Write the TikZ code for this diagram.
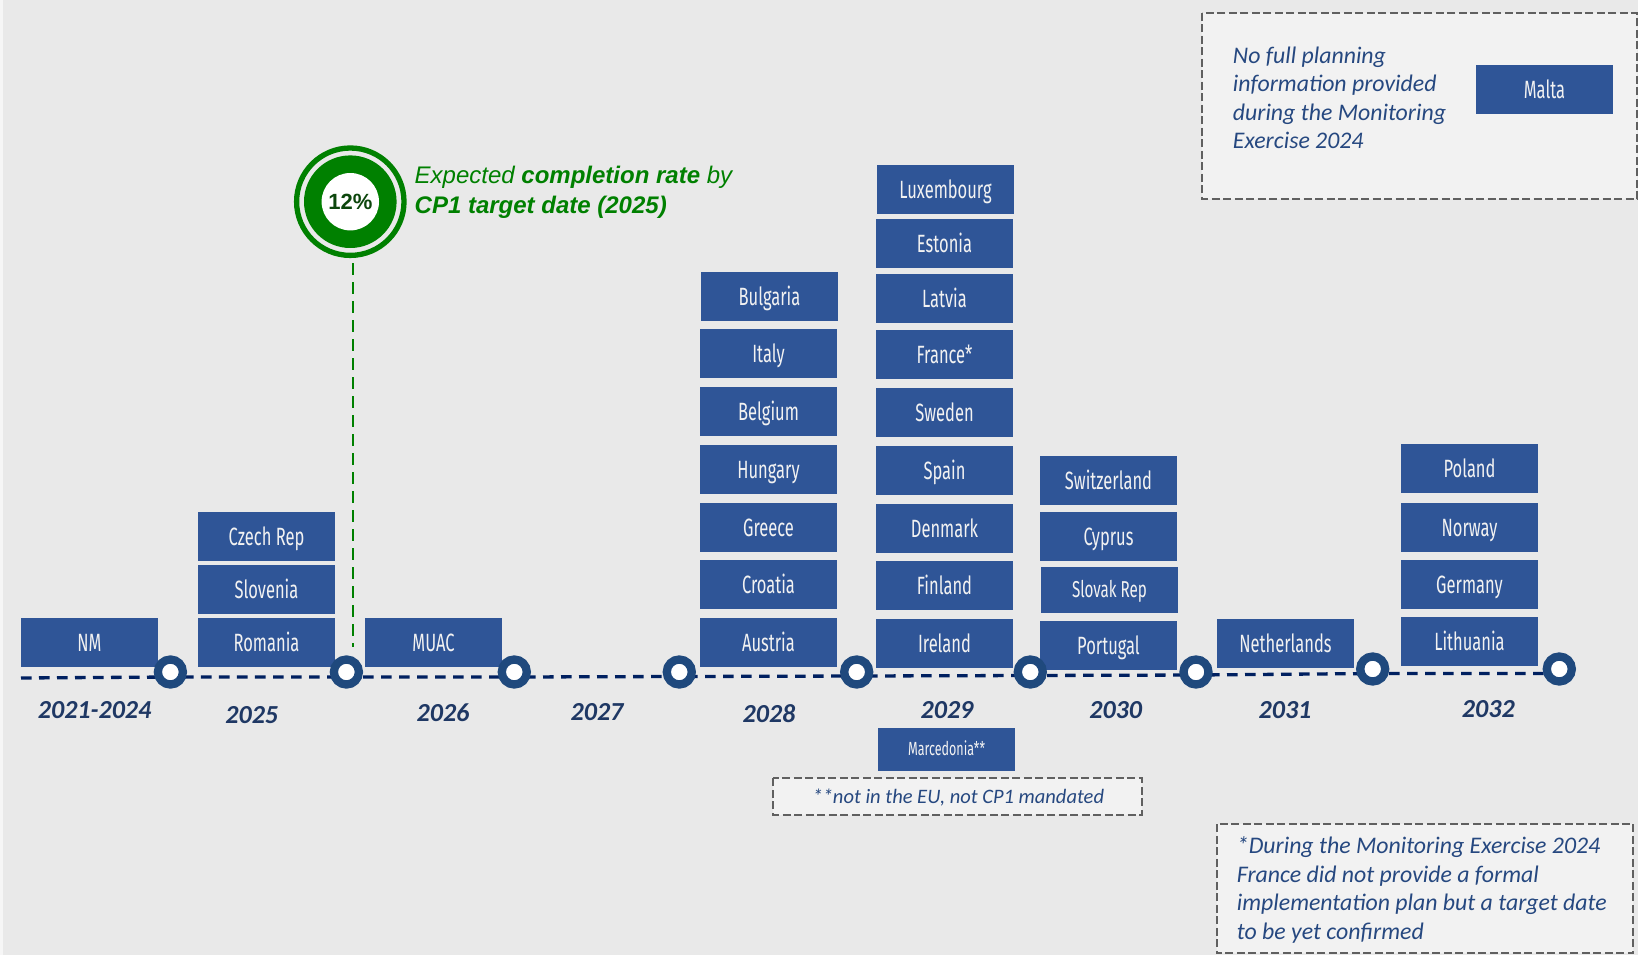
\documentclass[tikz,border=0pt]{standalone}
\usepackage{fontspec}
\setmainfont{Carlito}
\newfontfamily\agency[FakeStretch=0.66]{Fira Sans}
\newfontfamily\arialf{Liberation Sans}
\definecolor{bg}{RGB}{233,233,233}
\definecolor{boxblue}{RGB}{47,85,151}
\definecolor{ringblue}{RGB}{31,73,125}
\definecolor{navy}{RGB}{0,32,96}
\definecolor{yearc}{RGB}{31,56,100}
\definecolor{notec}{RGB}{38,72,128}
\definecolor{grn}{RGB}{0,128,0}
\definecolor{dgrn}{RGB}{12,70,12}
\definecolor{dashgray}{RGB}{96,96,96}
\definecolor{notefill}{RGB}{242,242,242}
\definecolor{boxtext}{RGB}{242,242,242}
\begin{document}
\begin{tikzpicture}[x=1pt,y=-1pt,
  cbox/.style={fill=boxblue, text=boxtext, minimum width=137pt, minimum height=48.7pt, inner sep=0pt,
    font=\agency\fontsize{25}{25}\selectfont, text height=17.5pt, text depth=0pt},
  ring/.style={circle, draw=ringblue, line width=8.3pt, fill=white, minimum size=25pt, inner sep=0pt},
  tl/.style={draw=navy, line width=3.3pt, dash pattern=on 10.7pt off 7.3pt},
  year/.style={font=\fontsize{26}{26}\selectfont\bfseries\itshape, text=yearc, inner sep=0pt, text height=17pt, text depth=0pt},
  notebox/.style={draw=dashgray, line width=2.2pt, dash pattern=on 8pt off 3.5pt, fill=notefill},
  notetext/.style={font=\fontsize{23.8}{28}\selectfont\itshape, text=notec, inner sep=0pt, anchor=base west},
  gtext/.style={font=\arialf\fontsize{24}{30}\selectfont\itshape, text=grn, inner sep=0pt, anchor=base west}
]
\useasboundingbox (0,0) rectangle (1638,955);
\fill[bg] (0,0) rectangle (1638,955);
\fill[white!60!bg] (0,0) rectangle (3,955);

% note boxes
\draw[notebox] (1202.3,12.7) rectangle (1637,199);
\draw[notebox] (773.3,778.3) rectangle (1141.7,815);
\draw[notebox] (1216.7,824) rectangle (1633.3,953.3);

\node[notetext] (m1) at (1232.7,63.3) {No full planning};
\node[notetext] (m2) at (1232.7,91.7) {information provided};
\node[notetext] (m3) at (1232.7,120.1) {during the Monitoring};
\node[notetext] (m4) at (1232.7,148.5) {Exercise 2024};
\node[cbox] (malta) at (1544.5,89.3) {Malta};

\node[notetext, anchor=base, font=\fontsize{20.5}{24}\selectfont\itshape] (nn) at (958.3,803.3) {**not in the EU, not CP1 mandated};

\node[notetext] (f1) at (1236.7,853.5) {*During the Monitoring Exercise 2024};
\node[notetext] (f2) at (1236.7,882.1) {France did not provide a formal};
\node[notetext] (f3) at (1236.7,910.7) {implementation plan but a target date};
\node[notetext] (f4) at (1236.7,939.3) {to be yet confirmed};

% green indicator
\node[circle, draw=grn, line width=5.3pt, minimum size=107.4pt, inner sep=0pt] (gc) at (350.3,201.7) {};
\node[circle, fill=grn, minimum size=92.6pt, inner sep=0pt] (gd) at (gc.center) {};
\node[circle, fill=white, minimum size=57.4pt, inner sep=0pt, text=dgrn,
  font=\arialf\bfseries\fontsize{22}{22}\selectfont] (gw) at (gc.center) {12\%};
\coordinate (gtop) at (352.9,263);
\coordinate (gbot) at (352.9,646.7);
\draw[grn, line width=2.2pt, dash pattern=on 11.7pt off 7.3pt] (gtop) -- (gbot);
\node[gtext] (g1) at (414.5,183.3) {Expected \textbf{completion rate} by};
\node[gtext] (g2) at (414.5,213.3) {\textbf{CP1 target date (2025)}};

% boxes
\node[cbox] (nm) at (89.5,642.5) {NM};
\node[cbox] (cz) at (266.5,536.5) {Czech Rep};
\node[cbox] (si) at (266.5,589.5) {Slovenia};
\node[cbox] (ro) at (266.5,642.5) {Romania};
\node[cbox] (muac) at (433.5,642.5) {MUAC};

\node[cbox] (bg1) at (769.5,296.3) {Bulgaria};
\node[cbox] (it) at (768.5,353.3) {Italy};
\node[cbox] (be) at (768.5,411.3) {Belgium};
\node[cbox] (hu) at (768.5,469.3) {Hungary};
\node[cbox] (gr) at (768.5,527.3) {Greece};
\node[cbox] (hr) at (768.5,584.3) {Croatia};
\node[cbox] (at) at (768.5,642.3) {Austria};

\node[cbox] (lu) at (945.5,189.3) {Luxembourg};
\node[cbox] (ee) at (944.5,243.3) {Estonia};
\node[cbox] (lv) at (944.5,298.3) {Latvia};
\node[cbox] (fr) at (944.5,354.3) {France*};
\node[cbox] (se) at (944.5,412.3) {Sweden};
\node[cbox] (es) at (944.5,470.3) {Spain};
\node[cbox] (dk) at (944.5,528.3) {Denmark};
\node[cbox] (fi) at (944.5,585.3) {Finland};
\node[cbox] (ie) at (944.5,643.3) {Ireland};
\node[cbox, minimum height=42.7pt, font=\agency\fontsize{19}{19}\selectfont, text height=13pt] (mk) at (946.5,749.3) {Marcedonia**};

\node[cbox] (ch) at (1108.5,480.3) {Switzerland};
\node[cbox] (cy) at (1108.5,536.3) {Cyprus};
\node[cbox, minimum height=45.7pt, font=\agency\fontsize{23}{23}\selectfont, text height=16pt] (sk) at (1109.5,589.8) {Slovak Rep};
\node[cbox] (pt) at (1108.5,645.3) {Portugal};

\node[cbox] (nl) at (1285.5,643.3) {Netherlands};

\node[cbox] (pl) at (1469.5,468.3) {Poland};
\node[cbox] (no) at (1469.5,527.3) {Norway};
\node[cbox] (de) at (1469.5,584.3) {Germany};
\node[cbox] (lt) at (1469.5,641.3) {Lithuania};

% timeline
\coordinate (t0) at (21,678);
\coordinate (c1) at (170.4,672);
\coordinate (c2) at (346.4,672);
\coordinate (c3) at (514.3,672);
\coordinate (c4) at (679.3,672);
\coordinate (c5) at (856.7,672);
\coordinate (c6) at (1030.3,672);
\coordinate (c7) at (1196,672);
\coordinate (c8) at (1372.7,669);
\coordinate (c9) at (1559.3,669);
\draw[tl] (t0) -- ([yshift=-5pt]c1) -- ([yshift=-5pt]c2) -- ([yshift=-5pt]c3) -- ([yshift=-4.5pt]c4)
  -- ([yshift=-4pt]c5) -- ([yshift=-3.5pt]c6) -- ([yshift=-3pt]c7) -- ([yshift=-4.5pt]c8) -- ([yshift=-4.5pt]c9);
\foreach \c in {c1,c2,c3,c4,c5,c6,c7,c8,c9}
  \node[ring] (r\c) at (\c) {};

\node[year] (y1) at (94.6,710) {2021-2024};
\node[year] (y2) at (251.8,715) {2025};
\node[year] (y3) at (443,713) {2026};
\node[year] (y4) at (597,711.7) {2027};
\node[year] (y5) at (769,714) {2028};
\node[year] (y6) at (947,710) {2029};
\node[year] (y7) at (1115.7,710) {2030};
\node[year] (y8) at (1285,710) {2031};
\node[year] (y9) at (1488.3,709.3) {2032};
\end{tikzpicture}
\end{document}
